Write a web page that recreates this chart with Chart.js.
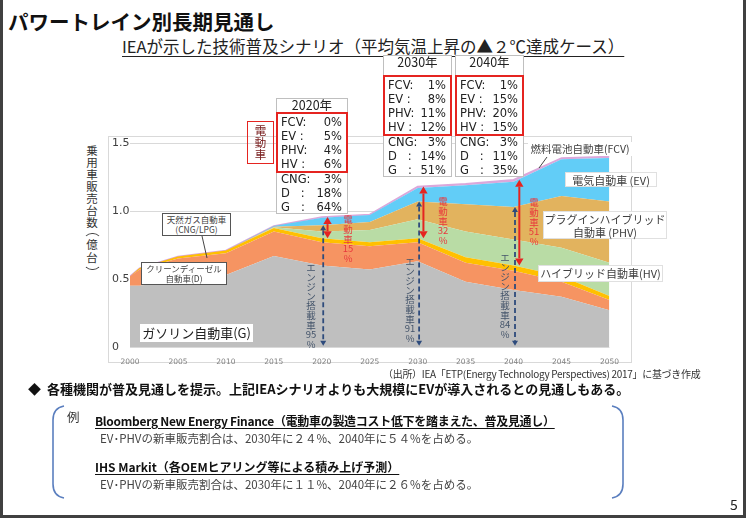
<!DOCTYPE html>
<html>
<head>
<meta charset="utf-8">
<script src="https://cdn.jsdelivr.net/npm/chart.js@4/dist/chart.umd.min.js"></script>
<style>
body{margin:0;width:746px;height:518px;overflow:hidden;background:#404040;position:relative;font-family:"Noto Sans CJK JP",sans-serif;color:#222;}
.a{position:absolute;white-space:nowrap;}
#slide{position:absolute;left:3px;top:0;width:740px;height:515px;background:#fff;}
.box{position:absolute;border:1px solid #bfbfbf;background:#fff;box-sizing:border-box;}
.red{position:absolute;border:2px solid #e52420;box-sizing:border-box;}
.row{position:absolute;display:flex;justify-content:space-between;font-family:"DejaVu Sans",sans-serif;font-size:11.5px;line-height:14px;white-space:pre;color:#222;}
.lbl{position:absolute;background:#fff;text-align:center;color:#404040;box-sizing:border-box;line-height:1.15;}
</style>
</head>
<body>
<div id="slide"></div>

<div class="a" style="left:8px;top:6px;font-size:20.5px;font-weight:bold;color:#111;">パワートレイン別長期見通し</div>
<div class="a" style="left:122px;top:34px;font-size:16.5px;color:#222;text-decoration:underline;text-underline-offset:3px;">IEAが示した技術普及シナリオ（平均気温上昇の▲２℃達成ケース）</div>

<!-- chart frame -->
<div class="a" style="left:108px;top:136px;width:522px;height:225px;border:1px solid #d9d9d9;"></div>

<!-- y axis title -->
<div class="a" style="left:82px;top:144px;width:20px;text-align:center;font-size:11.5px;line-height:12px;color:#333;">乗<br>用<br>車<br>販<br>売<br>台<br>数</div>
<div class="a" style="left:83px;top:233px;width:17px;height:35px;border:1.5px solid #444;border-left-color:transparent;border-right-color:transparent;border-radius:9px;"></div>
<div class="a" style="left:82px;top:238px;width:20px;text-align:center;font-size:11.5px;line-height:13px;color:#333;">億<br>台</div>

<canvas id="c" width="510" height="232" style="position:absolute;left:112px;top:136px;"></canvas>

<!-- series labels -->
<div class="lbl" style="left:162px;top:213px;width:69px;height:23px;border:1px solid #555;font-size:8.5px;padding-top:1px;">天然ガス自動車<br>(CNG/LPG)</div>
<div class="lbl" style="left:141px;top:262px;width:86px;height:23px;border:1px solid #555;font-size:8.5px;padding-top:1px;">クリーンディーゼル<br>自動車(D)</div>
<div class="lbl" style="left:140px;top:324px;width:113px;height:18px;font-size:13px;line-height:18px;color:#222;">ガソリン自動車(G)</div>
<div class="lbl" style="left:528px;top:142px;width:104px;height:14px;font-size:10.5px;line-height:14px;">燃料電池自動車(FCV)</div>
<div class="lbl" style="left:565px;top:172px;width:92px;height:15px;font-size:11px;line-height:14px;border:1px solid #e0e0e0;">電気自動車 (EV)</div>
<div class="lbl" style="left:543px;top:211px;width:124px;height:28px;font-size:11px;line-height:12.5px;border:1px solid #e0e0e0;padding-top:1px;">プラグインハイブリッド<br>自動車 (PHV)</div>
<div class="lbl" style="left:538px;top:265px;width:125px;height:17px;font-size:11px;line-height:15px;border:1px solid #e0e0e0;">ハイブリッド自動車(HV)</div>

<svg class="a" style="left:0;top:0;" width="746" height="518">
  <line x1="202" y1="236" x2="207" y2="258" stroke="#444" stroke-width="1"/>
  <line x1="547" y1="157" x2="539" y2="168" stroke="#444" stroke-width="1"/>
  <path d="M64 406 Q53 408 53 420 L53 484 Q53 496 64 498" fill="none" stroke="#5b7fbf" stroke-width="1.6"/>
  <path d="M612 406 Q623 408 623 420 L623 484 Q623 496 612 498" fill="none" stroke="#5b7fbf" stroke-width="1.6"/>
</svg>

<!-- 電動車 tag -->
<div class="a" style="left:247px;top:121px;width:27px;height:43px;border:1.5px solid #e52420;box-sizing:border-box;text-align:center;font-size:11.5px;line-height:11.8px;padding-top:3px;color:#7a2020;">電<br>動<br>車</div>

<div class="a" style="left:383px;top:366px;font-size:10px;letter-spacing:-0.3px;color:#333;">（出所）IEA「ETP(Energy Technology Perspectives) 2017」に基づき作成</div>
<div class="a" style="left:28px;top:379px;font-size:13px;font-weight:bold;color:#111;">◆&nbsp;&nbsp;各種機関が普及見通しを提示。上記IEAシナリオよりも大規模にEVが導入されるとの見通しもある。</div>
<div class="a" style="left:67px;top:407px;font-size:12.5px;color:#333;">例</div>
<div class="a" style="left:95px;top:412px;font-size:12px;font-weight:bold;letter-spacing:-0.3px;text-decoration:underline;text-underline-offset:2px;color:#111;">Bloomberg New Energy Finance（電動車の製造コスト低下を踏まえた、普及見通し）</div>
<div class="a" style="left:100px;top:430px;font-size:11.5px;color:#444;">EV･PHVの新車販売割合は、2030年に２４%、2040年に５４%を占める。</div>
<div class="a" style="left:95px;top:458px;font-size:12px;font-weight:bold;text-decoration:underline;text-underline-offset:2px;color:#111;">IHS Markit（各OEMヒアリング等による積み上げ予測）</div>
<div class="a" style="left:100px;top:476px;font-size:11.5px;color:#444;">EV･PHVの新車販売割合は、2030年に１１%、2040年に２６%を占める。</div>
<div class="a" style="left:730px;top:494px;font-size:14px;color:#222;">5</div>

<script>
const years    = [2000, 2001, 2005, 2010, 2015, 2020, 2025, 2030, 2035, 2040, 2045, 2050];
const gasoline = [0.45, 0.45, 0.49, 0.53, 0.67, 0.60, 0.57, 0.63, 0.48, 0.42, 0.37, 0.27];
const diesel   = [0.07, 0.12, 0.16, 0.16, 0.18, 0.17, 0.17, 0.14, 0.14, 0.14, 0.11, 0.075];
const cng      = [0.00, 0.01, 0.015, 0.02, 0.025, 0.03, 0.03, 0.03, 0.04, 0.04, 0.04, 0.03];
const hv       = [0, 0, 0, 0, 0.005, 0.05, 0.09, 0.14, 0.19, 0.19, 0.21, 0.245];
const phv      = [0, 0, 0, 0, 0.005, 0.045, 0.06, 0.13, 0.20, 0.24, 0.38, 0.45];
const ev       = [0, 0, 0, 0, 0.005, 0.055, 0.05, 0.10, 0.14, 0.185, 0.27, 0.32];
const fcv      = [0, 0, 0, 0, 0, 0.005, 0.005, 0.01, 0.01, 0.015, 0.01, 0.01];
const yTicks   = [0, 0.5, 1.0, 1.5];

// share tables shown above the chart
const rowNames  = ['FCV:', 'EV :', 'PHV:', 'HV :', 'CNG:', 'D   :', 'G   :'];
const share2020 = ['0%', '5%', '4%', '6%', '3%', '18%', '64%'];
const share2030 = ['1%', '8%', '11%', '12%', '3%', '14%', '51%'];
const share2040 = ['1%', '15%', '20%', '15%', '3%', '11%', '35%'];
const markYears = [2020, 2030, 2040];

function add(html) {
  const t = document.createElement('div');
  t.innerHTML = html;
  const el = t.firstElementChild;
  document.body.appendChild(el);
  return el;
}

function shareBox(x, w, top, headCenter, redTop, redBottom, bottom, title, vals) {
  add(`<div class="box" style="left:${x}px;top:${top}px;width:${w}px;height:${bottom - top}px"></div>`);
  add(`<div class="a" style="left:${x}px;top:${headCenter - 8}px;width:${w}px;text-align:center;font-size:12.5px;line-height:16px;color:#222">${title}</div>`);
  add(`<div class="red" style="left:${x}px;top:${redTop}px;width:${w}px;height:${redBottom - redTop}px"></div>`);
  vals.forEach((v, i) => {
    const cy = redTop + 9.8 + i * 14.2;
    add(`<div class="row" style="left:${x + 5}px;top:${cy - 7}px;width:${w - 11}px"><span>${rowNames[i]}</span><span>${v}</span></div>`);
  });
}

shareBox(276, 72, 98, 105, 112, 173, 214, '2020年', share2020);
shareBox(383, 69, 55, 62, 75, 136, 177, '2030年', share2030);
shareBox(455, 69, 55, 62, 75, 136, 177, '2040年', share2040);

function vtext(chars, cx, top, lh, size, color) {
  add(`<div class="a" style="left:${cx - 10}px;top:${top}px;width:20px;text-align:center;line-height:${lh}px;font-size:${size}px;color:${color}">${chars.join('<br>')}</div>`);
}
const redCol = '#e8383d', engCol = '#44546a';
vtext(['電', '動', '車', '15', '%'], 348, 215, 9.8, 9.5, redCol);
vtext(['電', '動', '車', '32', '%'], 443, 197, 9.8, 9.5, redCol);
vtext(['電', '動', '車', '51', '%'], 534, 198, 9.8, 9.5, redCol);
vtext(['エ', 'ン', 'ジ', 'ン', '搭', '載', '車', '95', '%'], 311, 263, 9.6, 9.5, engCol);
vtext(['エ', 'ン', 'ジ', 'ン', '搭', '載', '車', '91', '%'], 410, 257, 9.6, 9.5, engCol);
vtext(['エ', 'ン', 'ジ', 'ン', '搭', '載', '車', '84', '%'], 505, 253, 9.6, 9.5, engCol);

const pts = arr => arr.map((v, i) => ({ x: years[i], y: v }));

function area(label, arr, color, fill) {
  return {
    label: label,
    data: pts(arr),
    backgroundColor: color,
    borderColor: color,
    borderWidth: 0,
    fill: fill,
    pointRadius: 0,
    tension: 0
  };
}

function drawArrow(ctx, x, yTop, yBot, color, width, head, dash) {
  ctx.save();
  ctx.strokeStyle = color;
  ctx.fillStyle = color;
  ctx.lineWidth = width;
  ctx.setLineDash(dash);
  ctx.beginPath();
  ctx.moveTo(x, yTop + head);
  ctx.lineTo(x, yBot - head);
  ctx.stroke();
  ctx.setLineDash([]);
  ctx.beginPath();
  ctx.moveTo(x, yTop);
  ctx.lineTo(x - head * 0.6, yTop + head);
  ctx.lineTo(x + head * 0.6, yTop + head);
  ctx.closePath();
  ctx.fill();
  ctx.beginPath();
  ctx.moveTo(x, yBot);
  ctx.lineTo(x - head * 0.6, yBot - head);
  ctx.lineTo(x + head * 0.6, yBot - head);
  ctx.closePath();
  ctx.fill();
  ctx.restore();
}

// electrified / engine share arrows, placed from the stacked values
const arrowPlugin = {
  id: 'arrows',
  afterDatasetsDraw(chart) {
    const ctx = chart.ctx;
    const xs = chart.scales.x, ys = chart.scales.y;
    markYears.forEach(yr => {
      const i = years.indexOf(yr);
      const cngTop = gasoline[i] + diesel[i] + cng[i];
      const phvTop = cngTop + hv[i] + phv[i];
      const total = phvTop + ev[i] + fcv[i];
      drawArrow(ctx, xs.getPixelForValue(yr + 0.15), ys.getPixelForValue(phvTop), ys.getPixelForValue(0.01),
        '#2e4b7c', 1.8, 5, [5, 3]);
      drawArrow(ctx, xs.getPixelForValue(yr + 0.6), ys.getPixelForValue(total), ys.getPixelForValue(cngTop),
        '#e52420', 2, 7, []);
    });
  }
};

const ctx = document.getElementById('c').getContext('2d');

const fcvSet = area('FCV', fcv, '#dba8db', '-1');
fcvSet.borderWidth = 1.5;

new Chart(ctx, {
  type: 'line',
  data: {
    datasets: [
      area('G', gasoline, '#bfbfbf', 'origin'),
      area('D', diesel, '#f69462', '-1'),
      area('CNG', cng, '#ffc000', '-1'),
      area('HV', hv, '#b9dca5', '-1'),
      area('PHV', phv, '#e2b35e', '-1'),
      area('EV', ev, '#62cdf7', '-1'),
      fcvSet
    ]
  },
  options: {
    responsive: false,
    animation: false,
    layout: { padding: { top: 7, right: 10, left: 0, bottom: 0 } },
    plugins: { legend: { display: false }, tooltip: { enabled: false } },
    scales: {
      x: {
        type: 'linear',
        min: years[0],
        max: years[years.length - 1],
        grid: { display: false },
        border: { display: false },
        ticks: {
          stepSize: 5,
          maxRotation: 0,
          padding: 3,
          color: '#808080',
          font: { size: 7.5, family: 'DejaVu Sans' },
          callback: v => String(v)
        },
        afterFit(s) { s.height = 21; }
      },
      y: {
        stacked: true,
        min: 0,
        max: 1.5,
        grid: { color: '#d9d9d9', drawTicks: false },
        border: { display: false },
        afterBuildTicks(s) { s.ticks = yTicks.map(v => ({ value: v })); },
        ticks: {
          crossAlign: 'far',
          padding: 0,
          color: '#404040',
          font: { size: 11, family: 'DejaVu Sans' },
          callback: v => v === 0 ? '0' : v.toFixed(1)
        },
        afterFit(s) { s.width = 18; }
      }
    }
  },
  plugins: [arrowPlugin]
});
</script>
</body>
</html>
